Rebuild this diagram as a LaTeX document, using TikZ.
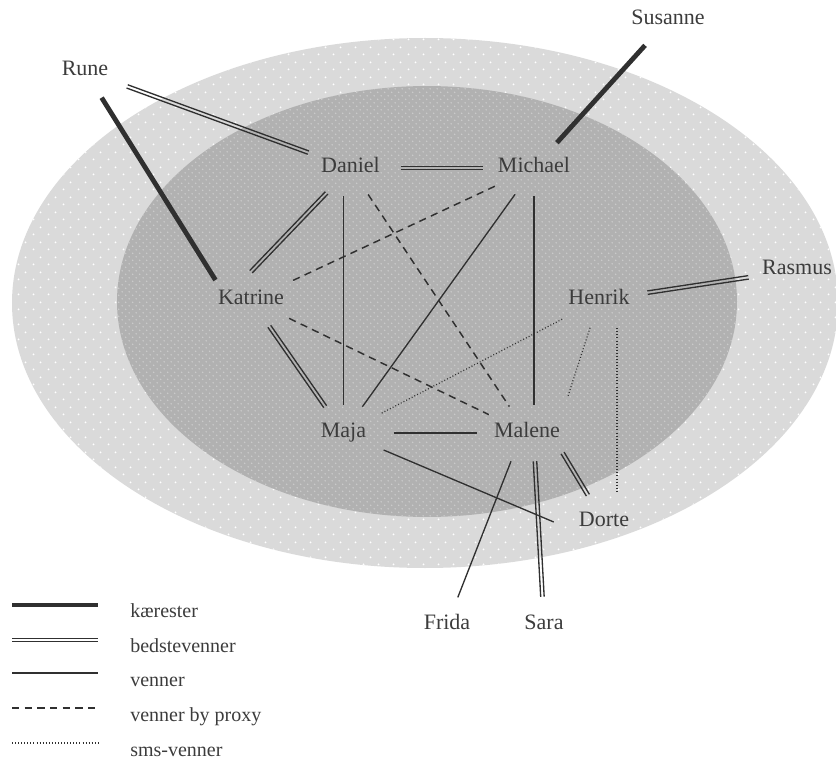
\documentclass[tikz,border=0pt]{standalone}
\usepackage{fontspec}
\setmainfont{Liberation Serif}
\usepackage{xcolor}
\usetikzlibrary{shapes.geometric, patterns.meta, calc, positioning}
\definecolor{lineGray}{HTML}{303030}
\definecolor{textGray}{HTML}{3C3C3C}
\definecolor{outerGray}{HTML}{DADADA}
\definecolor{innerGray}{HTML}{B1B1B1}
\definecolor{innerDot}{HTML}{CDCDCD}

\tikzdeclarepattern{
  name=outerdots,
  type=uncolored,
  bounding box={(0pt,0pt) and (11.25pt,11.25pt)},
  tile size={(11.25pt,11.25pt)},
  code={
    \fill (2.8pt,2.8pt) circle (0.8pt);
    \fill (8.4pt,8.4pt) circle (0.8pt);
  }
}
\tikzdeclarepattern{
  name=innerdots,
  type=uncolored,
  bounding box={(0pt,0pt) and (5.2pt,5.2pt)},
  tile size={(5.2pt,5.2pt)},
  code={
    \fill (1.3pt,1.3pt) circle (0.6pt);
    \fill (3.9pt,3.9pt) circle (0.6pt);
  }
}

% two parallel lines between two nodes
\newcommand{\bestfriends}[2]{%
  \path (#1) -- (#2) coordinate[pos=0] (bfA) coordinate[pos=1] (bfB);
  \draw[bedste] ($(bfA)!1.3pt!90:(bfB)$) -- ($(bfB)!1.3pt!-90:(bfA)$);
  \draw[bedste] ($(bfA)!1.3pt!-90:(bfB)$) -- ($(bfB)!1.3pt!90:(bfA)$);
}

\begin{document}
\begin{tikzpicture}[
    x=0.75pt, y=-0.75pt,
    person/.style={ellipse, minimum width=75pt, minimum height=42pt, inner sep=0pt, text=textGray, font=\fontsize{16.5}{20}\selectfont, text height=0.68em, text depth=0pt},
    kaereste/.style={draw=lineGray, line width=3.6pt},
    bedste/.style={draw=lineGray, line width=1pt},
    venner/.style={draw=lineGray, line width=1pt},
    proxy/.style={draw=lineGray, line width=1.1pt, dash pattern=on 5.5pt off 4pt},
    sms/.style={draw=lineGray, line width=0.9pt, dash pattern=on 0.7pt off 1.6pt},
    legendtext/.style={text=textGray, font=\fontsize{15}{18}\selectfont, anchor=base west, inner sep=0pt}
]
\useasboundingbox (0,0) rectangle (836,763);

% Circles
\fill[outerGray] (425,303) ellipse [x radius=309.75pt, y radius=198.75pt];
\fill[pattern=outerdots, pattern color=white] (425,303) ellipse [x radius=309.75pt, y radius=198.75pt];
\fill[innerGray] (427,301.5) ellipse [x radius=232.5pt, y radius=161.6pt];
\fill[pattern=innerdots, pattern color=innerDot] (427,301.5) ellipse [x radius=232.5pt, y radius=161.6pt];

% People
\node[person] (rune) at (85,71) {Rune};
\node[person] (susanne) at (668,20) {Susanne};
\node[person] (daniel) at (350.5,168) {Daniel};
\node[person] (michael) at (534,168) {Michael};
\node[person] (katrine) at (251,300) {Katrine};
\node[person] (henrik) at (599,300) {Henrik};
\node[person] (rasmus) at (797,270) {Rasmus};
\node[person] (maja) at (343.5,433) {Maja};
\node[person] (malene) at (527,433) {Malene};
\node[person] (dorte) at (604,522) {Dorte};
\node[person] (frida) at (447,625) {Frida};
\node[person] (sara) at (544,625) {Sara};

% Kaerester
\draw[kaereste] (rune) -- (katrine.north west);
\draw[kaereste] (susanne) -- (michael);

% Bedstevenner
\bestfriends{rune}{daniel}
\bestfriends{daniel}{michael}
\bestfriends{katrine.north}{daniel}
\bestfriends{katrine}{maja}
\bestfriends{henrik}{rasmus}
\bestfriends{malene.south east}{dorte}
\bestfriends{[xshift=6pt]malene.south}{sara}

% Venner
\draw[venner] (maja.north |- daniel.south) -- (maja.north);
\draw[venner] (michael.south) -- (michael.south |- malene.north);
\draw[venner] (michael) -- (maja);
\draw[venner] (maja) -- (malene);
\draw[venner] (maja) -- (dorte.west);
\draw[venner] ([xshift=-12pt]malene.south) -- (frida);

% Venner by proxy
\draw[proxy] (michael) -- (katrine);
\draw[proxy] (daniel) -- (malene);
\draw[proxy] (katrine) -- (malene);

% SMS-venner
\draw[sms] (henrik) -- (maja);
\draw[sms, shorten >=12pt] (henrik) -- (malene.north east);
\draw[sms] ([xshift=13.5pt]henrik.south) -- ([xshift=13.5pt]henrik.south |- dorte.north);

% Legend
\draw[kaereste] (12,605) -- (98,605);
\node[legendtext] (lkaereste) at (130,617) {kærester};
\draw[bedste] (12,638.2) -- (98,638.2);
\draw[bedste] (12,641.8) -- (98,641.8);
\node[legendtext] (lbedste) at (130,652) {bedstevenner};
\draw[venner] (12,673) -- (98,673);
\node[legendtext] (lvenner) at (130,686) {venner};
\draw[proxy] (12,708) -- (98,708);
\node[legendtext] (lproxy) at (130,721) {venner by proxy};
\draw[sms] (12,743) -- (98,743);
\node[legendtext] (lsms) at (130,756) {sms-venner};

\end{tikzpicture}
\end{document}
